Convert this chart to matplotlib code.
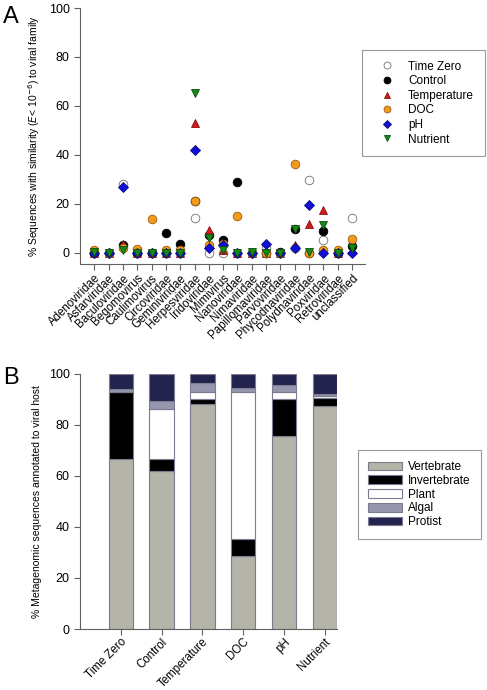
import numpy as np
import matplotlib
matplotlib.use('Agg')
import matplotlib.pyplot as plt

plt.rcParams['font.family'] = ['Liberation Sans', 'DejaVu Sans']

# panel A data
families = ['Adenoviridae', 'Asfarviridae', 'Baculoviridae', 'Begomovirus', 'Caulimovirus',
            'Circoviridae', 'Geminiviridae', 'Herpesviridae', 'Iridoviridae', 'Mimivirus',
            'Nanoviridae', 'Nimaviridae', 'Papillomaviridae', 'Parvoviridae', 'Phycodnaviridae',
            'Polydnaviridae', 'Poxviridae', 'Retroviridae', 'unclassified']
time_zero   = [0, 0, 28.2, 0, 0, 0, 0, 14.2, 0, 0, 0, 0, 2.0, 0, 2.0, 29.6, 5.2, 0, 14.0]
control     = [0, 0, 3.0, 0, 0, 7.9, 3.6, 21.0, 7.2, 5.0, 28.9, 0, 0, 0.3, 9.7, 0, 9.0, 0, 2.9]
temperature = [0, 0, 3.6, 0, 0, 0, 0, 52.9, 9.3, 1.0, 0, 0, 0, 0, 3.3, 11.8, 17.3, 0, 1.0]
doc         = [1.0, 0, 2.0, 1.5, 13.6, 1.0, 1.0, 21.2, 3.0, 3.5, 14.9, 0, 0, 0, 36.2, 0, 1.0, 1.2, 5.8]
ph          = [0, 0, 26.7, 0, 0, 0, 0, 41.8, 2.0, 3.0, 0, 0, 3.7, 0, 2.0, 19.5, 0, 0, 0]
nutrient    = [0.5, 0, 1.0, 0, 0, 0, 0, 65.2, 5.9, 1.0, 0, 0.5, 0, 0, 9.7, 0.2, 11.5, 0, 2.0]

# panel B data
treatments   = ['Time Zero', 'Control', 'Temperature', 'DOC', 'pH', 'Nutrient']
vertebrate   = [66.5, 61.8, 88.1, 28.5, 75.6, 87.3]
invertebrate = [26.4, 4.7, 2.2, 6.9, 14.7, 3.3]
plant        = [0.0, 19.8, 2.8, 57.7, 2.8, 0.9]
algal        = [1.2, 3.0, 3.4, 1.4, 2.6, 0.8]
protist      = [5.9, 10.7, 3.5, 5.5, 4.3, 7.7]

spine_col = '#606060'

fig = plt.figure(figsize=(4.87, 6.9), dpi=100)

# ---- panel A ----
ax = fig.add_axes([0.1643, 0.6174, 0.585, 0.371])
x = np.arange(len(families))
series = [
    ('Time Zero', time_zero, 'o', 'white', '#707070'),
    ('Control', control, 'o', 'black', 'black'),
    ('Temperature', temperature, '^', '#d41a1a', '#8a1010'),
    ('DOC', doc, 'o', '#f39a1e', '#9a6010'),
    ('pH', ph, 'D', '#1010d8', '#0a0a80'),
    ('Nutrient', nutrient, 'v', '#148a14', '#0a500a'),
]
for name, vals, mk, fc, ec in series:
    ms = 5.2 if mk == 'D' else 6.2
    ax.plot(x, vals, linestyle='none', marker=mk, markersize=ms,
            markerfacecolor=fc, markeredgecolor=ec, markeredgewidth=0.6, label=name)

ax.set_xlim(-1, 18.9)
ax.set_ylim(-4.6, 100)
ax.set_yticks([0, 20, 40, 60, 80, 100])
ax.set_xticks(x)
ax.set_xticklabels(families, rotation=45, ha='right', rotation_mode='anchor', fontsize=8.3)
ax.tick_params(axis='y', labelsize=9, direction='out', length=4, color=spine_col)
ax.tick_params(axis='x', direction='out', length=4, color=spine_col, pad=2)
for s in ['top', 'right']:
    ax.spines[s].set_visible(False)
for s in ['left', 'bottom']:
    ax.spines[s].set_color(spine_col)
ax.set_ylabel('% Sequences with similarity ($\\it{E}$< 10$^{-6}$) to viral family', fontsize=7.5,
              labelpad=5)
leg = ax.legend(loc='upper left', bbox_to_anchor=(0.99, 0.836), fontsize=8.5, frameon=True,
                fancybox=False, edgecolor='#808080', handletextpad=0.6, borderpad=0.9,
                labelspacing=0.22, markerscale=0.8, borderaxespad=0, handlelength=2.4)
leg.get_frame().set_linewidth(0.8)
fig.text(0.006, 0.975, 'A', fontsize=17, va='center')

# ---- panel B ----
bx = fig.add_axes([0.1643, 0.0884, 0.5277, 0.3696])
xb = np.arange(len(treatments))
layers = [
    ('Vertebrate', vertebrate, '#b4b4a8'),
    ('Invertebrate', invertebrate, 'black'),
    ('Plant', plant, 'white'),
    ('Algal', algal, '#9696ae'),
    ('Protist', protist, '#23234f'),
]
bottom = np.zeros(len(treatments))
for name, vals, col in layers:
    bx.bar(xb, vals, width=0.6, bottom=bottom, color=col, edgecolor='#7c7c90',
           linewidth=0.8, label=name)
    bottom += np.array(vals)

bx.set_xlim(-1, 5.3)
bx.set_ylim(0, 100)
bx.set_yticks([0, 20, 40, 60, 80, 100])
bx.set_xticks(xb)
bx.set_xticklabels(treatments, rotation=45, ha='right', rotation_mode='anchor', fontsize=8.3)
bx.tick_params(axis='y', labelsize=9, direction='out', length=4, color=spine_col)
bx.tick_params(axis='x', direction='out', length=4, color=spine_col, pad=1)
for s in ['top', 'right']:
    bx.spines[s].set_visible(False)
for s in ['left', 'bottom']:
    bx.spines[s].set_color(spine_col)
bx.set_ylabel('% Metagenomic sequences annotated to viral host', fontsize=7.5, labelpad=5)
leg2 = bx.legend(loc='upper left', bbox_to_anchor=(1.08, 0.70), fontsize=8.5, frameon=True,
                 fancybox=False, edgecolor='#808080', handlelength=2.9, handleheight=0.75,
                 handletextpad=0.5, borderpad=0.9, labelspacing=0.15, borderaxespad=0)
leg2.get_frame().set_linewidth(0.8)
fig.text(0.006, 0.452, 'B', fontsize=17, va='center')

fig.savefig('out.png', dpi=100)
